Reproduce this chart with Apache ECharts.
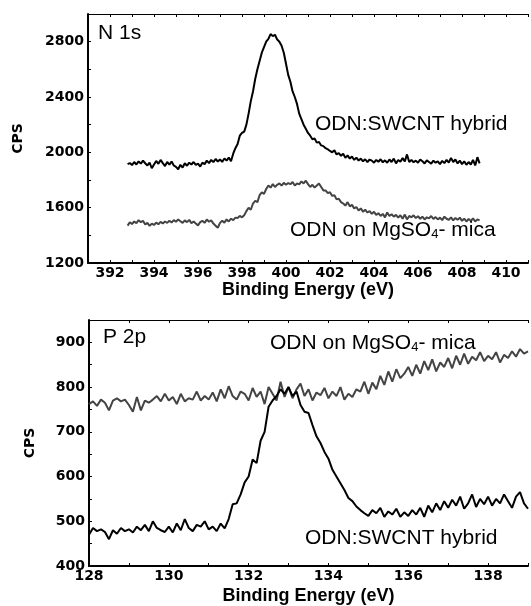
<!DOCTYPE html>
<html>
<head>
<meta charset="utf-8">
<script src="https://cdn.jsdelivr.net/npm/echarts@6/dist/echarts.min.js"></script>
<style>
  html, body { margin: 0; padding: 0; background: #fff; }
  #chart { width: 531px; height: 606px; }
</style>
</head>
<body>
<div id="chart"></div>
<script>
// N 1s panel (binding energy in eV, counts per second)
const n1sEnergy = [
  392.8,392.9,393.0,393.1,393.2,393.3,393.4,393.5,393.6,393.7,
  393.8,393.9,394.0,394.1,394.2,394.3,394.4,394.5,394.6,394.7,
  394.8,394.9,395.0,395.1,395.2,395.3,395.4,395.5,395.6,395.7,
  395.8,395.9,396.0,396.1,396.2,396.3,396.4,396.5,396.6,396.7,
  396.8,396.9,397.0,397.1,397.2,397.3,397.4,397.5,397.6,397.7,
  397.8,397.9,398.0,398.1,398.2,398.3,398.4,398.5,398.6,398.7,
  398.8,398.9,399.0,399.1,399.2,399.3,399.4,399.5,399.6,399.7,
  399.8,399.9,400.0,400.1,400.2,400.3,400.4,400.5,400.6,400.7,
  400.8,400.9,401.0,401.1,401.2,401.3,401.4,401.5,401.6,401.7,
  401.8,401.9,402.0,402.1,402.2,402.3,402.4,402.5,402.6,402.7,
  402.8,402.9,403.0,403.1,403.2,403.3,403.4,403.5,403.6,403.7,
  403.8,403.9,404.0,404.1,404.2,404.3,404.4,404.5,404.6,404.7,
  404.8,404.9,405.0,405.1,405.2,405.3,405.4,405.5,405.6,405.7,
  405.8,405.9,406.0,406.1,406.2,406.3,406.4,406.5,406.6,406.7,
  406.8,406.9,407.0,407.1,407.2,407.3,407.4,407.5,407.6,407.7,
  407.8,407.9,408.0,408.1,408.2,408.3,408.4,408.5,408.6,408.7,
  408.8
];
const n1sHybrid = [
  1915,1922,1908,1930,1912,1935,1918,1940,1921,1905,
  1926,1885,1912,1938,1917,1945,1922,1901,1930,1911,
  1934,1905,1895,1878,1910,1890,1921,1903,1925,1912,
  1930,1909,1918,1897,1925,1915,1940,1922,1945,1929,
  1952,1934,1948,1931,1956,1940,1962,1935,1990,2030,
  2060,2120,2140,2150,2200,2280,2370,2440,2530,2600,
  2660,2720,2760,2800,2820,2855,2840,2850,2815,2800,
  2770,2720,2640,2560,2510,2440,2400,2350,2280,2240,
  2200,2170,2140,2120,2095,2100,2070,2075,2050,2045,
  2030,2022,2010,2000,2015,1985,1995,1975,1990,1960,
  1978,1955,1970,1945,1962,1940,1955,1935,1950,1930,
  1948,1940,1925,1945,1932,1950,1928,1942,1925,1948,
  1930,1955,1920,1945,1932,1958,1935,1985,1930,1945,
  1928,1940,1925,1948,1935,1920,1942,1930,1918,1940,
  1925,1935,1915,1938,1922,1945,1925,1960,1930,1948,
  1920,1940,1915,1935,1910,1930,1912,1945,1905,1965,
  1920
];
const n1sMica = [
  1470,1495,1482,1500,1488,1510,1495,1505,1478,1490,
  1468,1485,1475,1492,1480,1497,1486,1500,1490,1505,
  1493,1510,1498,1515,1502,1490,1508,1495,1512,1488,
  1500,1485,1472,1495,1505,1490,1515,1498,1508,1485,
  1470,1455,1490,1505,1492,1515,1500,1520,1510,1528,
  1525,1540,1530,1545,1575,1600,1585,1630,1650,1640,
  1690,1710,1700,1735,1760,1745,1770,1750,1765,1775,
  1760,1780,1765,1778,1770,1785,1760,1775,1768,1790,
  1775,1795,1770,1750,1765,1745,1760,1775,1750,1725,
  1725,1705,1712,1685,1690,1660,1665,1640,1630,1615,
  1640,1610,1620,1595,1605,1580,1595,1570,1585,1565,
  1575,1555,1570,1548,1560,1540,1555,1530,1565,1540,
  1552,1535,1548,1528,1545,1520,1550,1515,1540,1530,
  1545,1525,1538,1520,1535,1515,1530,1522,1540,1518,
  1532,1515,1528,1510,1535,1520,1512,1530,1508,1525,
  1512,1528,1505,1520,1500,1518,1505,1522,1500,1515,
  1508
];

// P 2p panel
const p2pEnergy = [
  128.0,128.1,128.2,128.3,128.4,128.5,128.6,128.7,128.8,128.9,
  129.0,129.1,129.2,129.3,129.4,129.5,129.6,129.7,129.8,129.9,
  130.0,130.1,130.2,130.3,130.4,130.5,130.6,130.7,130.8,130.9,
  131.0,131.1,131.2,131.3,131.4,131.5,131.6,131.7,131.8,131.9,
  132.0,132.1,132.2,132.3,132.4,132.5,132.6,132.7,132.8,132.9,
  133.0,133.1,133.2,133.3,133.4,133.5,133.6,133.7,133.8,133.9,
  134.0,134.1,134.2,134.3,134.4,134.5,134.6,134.7,134.8,134.9,
  135.0,135.1,135.2,135.3,135.4,135.5,135.6,135.7,135.8,135.9,
  136.0,136.1,136.2,136.3,136.4,136.5,136.6,136.7,136.8,136.9,
  137.0,137.1,137.2,137.3,137.4,137.5,137.6,137.7,137.8,137.9,
  138.0,138.1,138.2,138.3,138.4,138.5,138.6,138.7,138.8,138.9,
  139.0
];
const p2pMica = [
  762,768,758,772,765,748,770,775,768,772,
  760,745,778,748,770,765,772,780,768,785,
  770,778,762,785,768,775,772,790,770,780,
  772,788,768,795,775,802,780,772,790,785,
  770,798,778,790,762,800,785,770,812,778,
  800,775,795,808,780,795,770,788,782,798,
  775,790,780,800,772,785,778,795,790,812,
  785,810,795,825,805,835,812,840,820,830,
  845,825,850,830,858,838,862,835,855,845,
  865,842,870,850,875,852,868,860,878,858,
  870,862,878,855,872,865,880,868,885,875,
  880
];
const p2pHybrid = [
  470,485,478,482,476,460,480,472,485,478,
  482,475,488,480,492,478,500,485,480,476,
  488,475,495,480,505,485,478,492,488,500,
  482,488,478,495,484,505,538,540,560,587,
  600,638,630,680,700,756,770,780,795,785,
  800,780,790,760,745,742,715,690,675,655,
  640,615,600,585,570,552,545,533,525,518,
  512,525,518,530,510,522,515,528,510,520,
  512,525,515,530,510,535,520,540,525,545,
  530,548,535,555,528,540,560,532,550,538,
  555,535,550,540,560,545,530,555,565,540,
  528
];

const n1sRange = [391, 411];
const p2pRange = [128, 139];
const n1sCps = [1200, 3000];
const p2pCps = [400, 950];

const pairs = (xs, ys) => xs.map((x, i) => [x, ys[i]]);

const tickFont = { fontFamily: 'DejaVu Sans', fontWeight: 'bold', fontSize: 14, color: '#000' };
const titleFont = { fontFamily: 'Liberation Sans', fontWeight: 'bold', fontSize: 18, color: '#000' };

function bottomAxis(idx, range, gap) {
  return {
    type: 'value', gridIndex: idx, position: 'bottom',
    min: range[0], max: range[1], interval: 1,
    name: 'Binding Energy (eV)', nameLocation: 'middle', nameGap: gap,
    nameTextStyle: titleFont,
    axisLine: { show: true, onZero: false, lineStyle: { color: '#000', width: 2 } },
    axisTick: { show: true, inside: true, length: 3, lineStyle: { color: '#000' } },
    axisLabel: Object.assign({ margin: 3, formatter: v => (v % 2 === 0 ? String(v) : '') }, tickFont),
    splitLine: { show: false }
  };
}
function topAxis(idx, range) {
  return {
    type: 'value', gridIndex: idx, position: 'top',
    min: range[0], max: range[1], interval: 1,
    axisLine: { show: true, onZero: false, lineStyle: { color: '#000', width: 1 } },
    axisTick: { show: true, inside: true, length: 3, lineStyle: { color: '#000' } },
    axisLabel: { show: false },
    splitLine: { show: false }
  };
}
function leftAxis(idx, range, step, labelStep, gap) {
  return {
    type: 'value', gridIndex: idx,
    min: range[0], max: range[1], interval: step,
    name: 'CPS', nameLocation: 'middle', nameGap: gap,
    nameTextStyle: { fontFamily: 'DejaVu Sans', fontWeight: 'bold', fontSize: 14, color: '#000' },
    axisLine: { show: true, onZero: false, lineStyle: { color: '#000', width: 2 } },
    axisTick: { show: true, inside: true, length: 3, lineStyle: { color: '#000' } },
    axisLabel: Object.assign({ margin: 4, formatter: v => (v % labelStep === 0 ? String(v) : '') }, tickFont),
    splitLine: { show: false }
  };
}

function curve(xi, yi, xs, ys, color, z) {
  return {
    type: 'line', xAxisIndex: xi, yAxisIndex: yi,
    data: pairs(xs, ys), showSymbol: false, z: z,
    lineStyle: { color: color, width: 2 }, itemStyle: { color: color }
  };
}

const annoFont = 'normal 21px "Liberation Sans"';
function label(x, y, text, font) {
  return { type: 'text', left: x, top: y, z: 100,
    style: { text: text, font: font || annoFont, fill: '#000', verticalAlign: 'middle' } };
}
function micaLabel(x, y) {
  return { type: 'text', left: x, top: y, z: 100,
    style: {
      text: '{a|ODN on MgSO}{s|4}{a|- mica}',
      fill: '#000',
      rich: {
        a: { fontFamily: 'Liberation Sans', fontSize: 21, lineHeight: 26, verticalAlign: 'bottom' },
        s: { fontFamily: 'Liberation Sans', fontSize: 13, lineHeight: 12, verticalAlign: 'bottom' }
      }
    } };
}

const chart = echarts.init(document.getElementById('chart'), null, { renderer: 'canvas' });
chart.setOption({
  animation: false,
  backgroundColor: '#fff',
  grid: [
    { left: 88, right: 0, top: 14, height: 249 },
    { left: 89, right: 0, top: 320, height: 247 }
  ],
  xAxis: [
    bottomAxis(0, n1sRange, 12),
    bottomAxis(1, p2pRange, 21),
    topAxis(0, n1sRange),
    topAxis(1, p2pRange)
  ],
  yAxis: [
    leftAxis(0, n1sCps, 200, 400, 63),
    leftAxis(1, p2pCps, 50, 100, 52)
  ],
  series: [
    curve(0, 0, n1sEnergy, n1sHybrid, '#000', 3),
    curve(0, 0, n1sEnergy, n1sMica, '#444', 2),
    curve(1, 1, p2pEnergy, p2pMica, '#444', 2),
    curve(1, 1, p2pEnergy, p2pHybrid, '#000', 3)
  ],
  graphic: [
    label(98, 23, 'N 1s', 'normal 21px "Liberation Sans"'),
    label(103, 327, 'P 2p', 'normal 21px "Liberation Sans"'),
    label(315, 114, 'ODN:SWCNT hybrid'),
    micaLabel(290, 220),
    micaLabel(270, 333),
    label(305, 528, 'ODN:SWCNT hybrid')
  ]
});
</script>
</body>
</html>
